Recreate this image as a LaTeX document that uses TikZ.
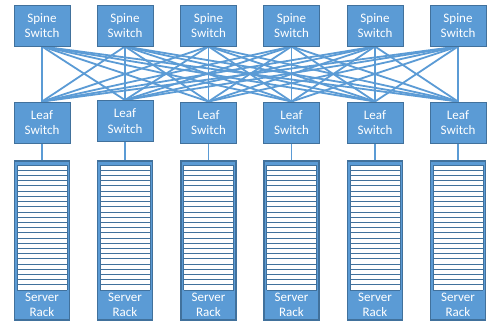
\documentclass[tikz,border=0pt]{standalone}
\usepackage{fontspec}
\setmainfont{Carlito}
\usetikzlibrary{backgrounds}
\definecolor{boxblue}{HTML}{5B9BD5}
\definecolor{edgeblue}{HTML}{41719C}
\begin{document}
\begin{tikzpicture}[x=1pt,y=-1pt,
  sw/.style={draw=edgeblue, line width=0.9pt, fill=boxblue, text=white,
    minimum width=56pt, minimum height=41pt, inner sep=0pt, align=center,
    font=\fontsize{13}{15.3}\selectfont},
  rackbox/.style={draw=edgeblue, line width=1.6pt, fill=boxblue,
    minimum width=55pt, minimum height=159pt, inner sep=0pt},
  racklabel/.style={text=white, align=center, inner sep=0pt,
    font=\fontsize{13}{15}\selectfont},
  link/.style={draw=boxblue, line width=1.8pt},
  slot/.style={draw=edgeblue, line width=0.7pt}]
\useasboundingbox (0,0) rectangle (488,324);
\foreach \i/\x in {1/42,2/125,3/208.5,4/291.5,5/375,6/458}{
  \node[sw] (s\i) at (\x,25.5) {Spine\\Switch};
  \node[rackbox] (r\i) at (\x,240.5) {};
  \fill[white] (\x-25,165) rectangle (\x+25,290);
  \foreach \k in {0,...,24}{
    \draw[slot] (\x-25,165+\k*125/24) -- (\x+25,165+\k*125/24);
  }
  \draw[slot] (\x-25,165) -- (\x-25,290) (\x+25,165) -- (\x+25,290);
  \node[racklabel] (t\i) at (\x,304.5) {Server\\Rack};
}
\foreach \i/\x/\y in {1/42/122.5,2/125/121,3/208.5/122.5,4/291.5/122.5,5/375/122.5,6/458/122.5}{
  \node[sw] (l\i) at (\x,\y) {Leaf\\Switch};
}
\begin{scope}[on background layer]
\foreach \a in {1,...,6}{
  \foreach \b in {1,...,6}{
    \draw[link] (s\a.south) -- (l\b.north);
  }
  \draw[link] (l\a.south) -- (r\a.north);
}
\end{scope}
\end{tikzpicture}
\end{document}
